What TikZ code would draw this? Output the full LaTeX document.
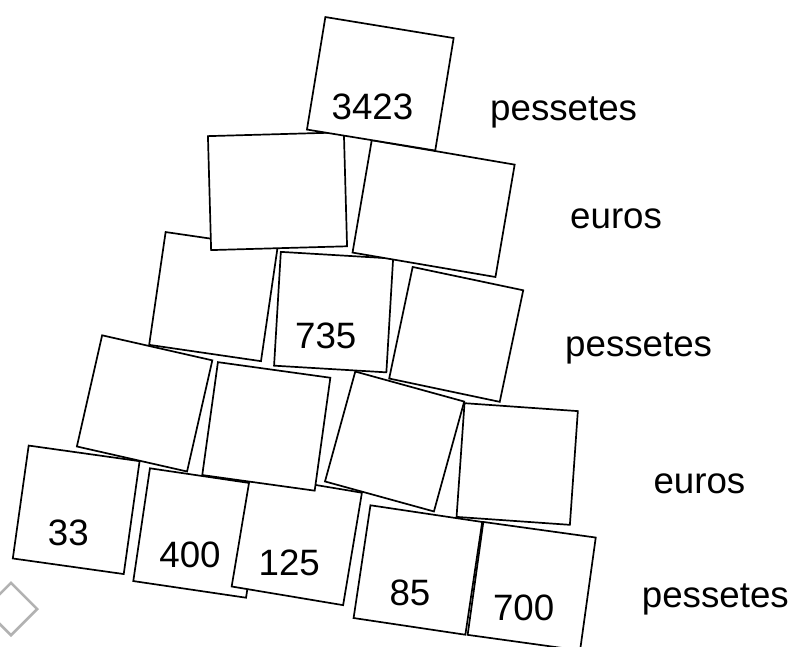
\documentclass[tikz,border=0pt]{standalone}
\usepackage{fontspec}
\setmainfont{Liberation Sans}
\begin{document}
\begin{tikzpicture}[x=1pt,y=-1pt,
    card/.style={draw,fill=white,line width=1.7pt,inner sep=0pt,minimum height=114pt},
    num/.style={inner sep=0pt,font=\fontsize{36.7}{40}\selectfont},
    unit/.style={inner sep=0pt,anchor=base west,font=\fontsize{36.7}{40}\selectfont}]
  \useasboundingbox (0,0) rectangle (793,646);
  % bottom row first, so the rows above lie on it
  \draw
    (76.2,509.8) node[card,rotate=-8,minimum width=112pt] (c10){}
    (198,533) node[card,rotate=-8.4,minimum width=114pt] (c11){}
    (296.8,539.6) node[card,rotate=-9.5,minimum width=113pt] (c12){}
    (417.9,570) node[card,rotate=-8.5,minimum width=113pt] (c13){}
    (531.7,586.2) node[card,rotate=-7.9,minimum width=113.5pt] (c14){}
    (144.6,403.4) node[card,rotate=-12.8,minimum width=113pt] (c6){}
    (266.3,426.4) node[card,rotate=-7.9,minimum width=113.5pt] (c7){}
    (394.6,441.5) node[card,rotate=-15.4,minimum width=113pt] (c8){}
    (517.2,464) node[card,rotate=-4,minimum width=113.6pt] (c9){}
    (213.3,296.6) node[card,rotate=-8.3,minimum width=113pt] (c3){}
    (333.6,312.1) node[card,rotate=-3.4,minimum width=112.5pt] (c4){}
    (456.2,334.4) node[card,rotate=-11.9,minimum width=113pt] (c5){}
    (277.5,191.2) node[card,rotate=1.6,minimum width=136pt] (c1){}
    (433.6,208.6) node[card,rotate=-9.7,minimum width=145pt] (c2){}
    (380.3,83.8) node[card,rotate=-9.3,minimum width=130pt] (c0){};
  \draw
    (372.5,106.7) node[num] (n0){3423}
    (325.8,335.8) node[num] (n4){735}
    (68.3,532.5) node[num] (n10){33}
    (190,555) node[num] (n11){400}
    (289.3,563) node[num] (n12){125}
    (410,593.3) node[num] (n13){85}
    (523.7,607.8) node[num] (n14){700};
  \draw
    (490,120) node[unit] (u1){pessetes}
    (570,228.3) node[unit] (u2){euros}
    (565,356) node[unit] (u3){pessetes}
    (653.3,493.3) node[unit] (u4){euros}
    (641.7,607.3) node[unit] (u5){pessetes};
  \node[draw=gray!60,line width=2.6pt,minimum size=37pt,rotate=45] (icon) at (11,609) {};
\end{tikzpicture}
\end{document}
